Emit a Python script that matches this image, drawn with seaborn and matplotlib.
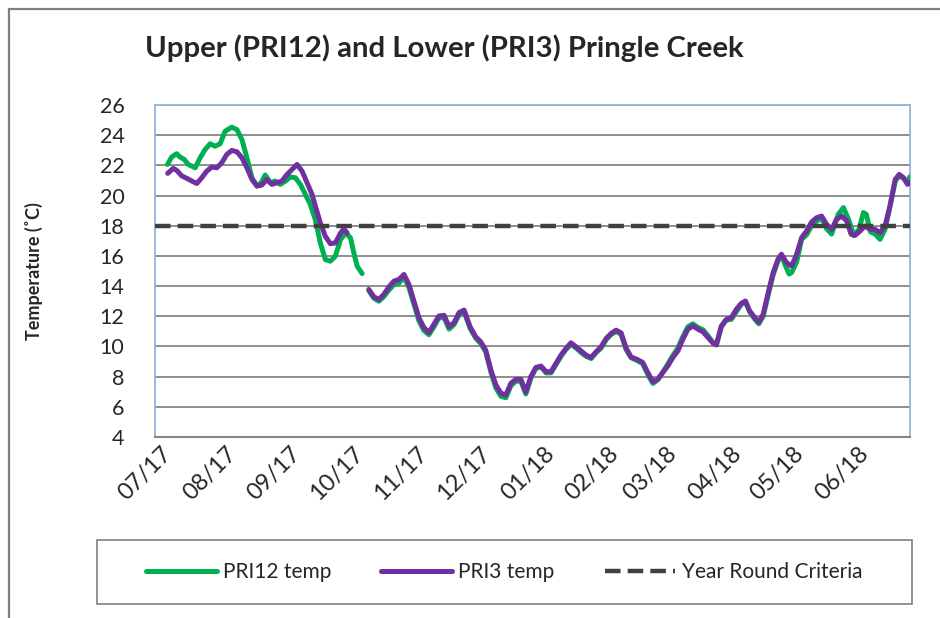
import numpy as np
import pandas as pd
import matplotlib
matplotlib.use('Agg')
import matplotlib.pyplot as plt
import matplotlib.transforms as mtransforms
from matplotlib.patches import Rectangle
import seaborn as sns

# day offsets from 2017-07-01
pri12_days = [6, 8, 10.4, 12, 14, 16, 19.3, 21.7, 24.1, 26.5, 28.9, 31.3, 33.7, 36.9, 39.4,
              41.8, 44.2, 46.6, 49, 51.1, 53, 55.4, 57.8, 60.2, 62.7, 65.1, 67.5, 69.9, 72.3,
              74.7, 77.1, 79.5, 81.9, 84.3, 86.7, 89.2, 91.6, 94, 95.6, 97.2, 99.6,
              102.8, 105.2, 107.6, 110, 112.5, 114.9, 117.3, 119.7, 122.1, 124.5, 126.9,
              129.3, 131.7, 134.1, 136.5, 139, 141.4, 143.8, 146.2, 148.6, 151.5, 154.2,
              156.6, 159, 161.5, 163.9, 166.3, 168.7, 171.1, 173.5, 175.9, 178.3, 180.7,
              183.1, 185.6, 188, 190.4, 192.8, 195.2, 197.6, 200, 202.4, 204.8, 207.2,
              209.7, 212.1, 214.5, 216.9, 219.3, 221.7, 224.1, 226.5, 228.9, 232.1, 234.5,
              236.9, 239.4, 241.8, 244.2, 246.6, 249, 251.4, 253.8, 256.2, 258.6, 261.1,
              263.5, 265.9, 268.3, 269.9, 272.3, 274.7, 277.1, 279.5, 281.9, 283.9, 285.9,
              288.4, 290.3, 292.4, 294.8, 297.2, 299.6, 301.2, 303.6, 304.9, 306.1, 308.5,
              310.9, 313.3, 315.7, 318.1, 320.5, 322.9, 325.3, 328.5, 331, 333.5, 336,
              338.5, 340.6, 342, 344, 346.2, 348.6, 351, 353.4, 355.9, 357.8, 359.9, 361.8, 363]
pri12_temp = [22.06, 22.55, 22.77, 22.55, 22.4, 22.06, 21.84, 22.5, 23.05, 23.43, 23.27, 23.43,
              24.26, 24.53, 24.37, 23.7, 22.5, 21.18, 20.63, 20.85, 21.36, 20.85, 20.96, 20.74,
              20.96, 21.23, 21.18, 20.74, 20.08, 19.4, 18.4, 16.86, 15.76, 15.65, 15.98, 17.08,
              17.52, 17.19, 16.2, 15.32, 14.83,
              13.7, 13.2, 13.0, 13.3, 13.75, 14.1, 14.2, 14.6, 13.9, 12.8, 11.7,
              11.05, 10.78, 11.3, 11.9, 11.9, 11.15, 11.45, 12.1, 12.3, 11.2, 10.55,
              10.2, 9.65, 8.3, 7.25, 6.7, 6.6, 7.4, 7.7, 7.7, 6.85, 7.9,
              8.55, 8.65, 8.25, 8.25, 8.8, 9.35, 9.8, 10.15, 9.9, 9.6, 9.35,
              9.2, 9.6, 9.9, 10.45, 10.8, 11.0, 10.8, 9.8, 9.25, 9.05, 8.85,
              8.15, 7.55, 7.8, 8.3, 8.85, 9.4, 9.9, 10.65, 11.3, 11.5, 11.25,
              11.1, 10.7, 10.25, 10.1, 11.3, 11.75, 11.8, 12.3, 12.8, 12.95, 12.3,
              11.8, 11.5, 12.0, 13.4, 14.75, 15.7, 16.0, 15.2, 14.8, 14.9, 15.6,
              17.1, 17.4, 18.0, 18.3, 18.5, 17.8, 17.45, 18.75, 19.2, 18.4, 17.35,
              17.76, 18.87, 18.75, 17.6, 17.45, 17.1, 17.76, 19.3, 20.96, 21.3, 21.15, 20.9, 21.25]
pri12_seg = [1] * 41 + [2] * (len(pri12_days) - 41)

pri3_days = [6.1, 8.8, 10.4, 12.9, 15.3, 17.7, 20.1, 22.5, 24.9, 27.3, 29.7, 32.1, 34.5, 36.9,
             39.4, 41.8, 44.2, 46.6, 49, 51.4, 53.8, 56.2, 58.6, 61, 63.5, 65.9, 68.3, 70.7,
             73.1, 75.5, 77.1, 79.5, 81.9, 84.3, 86.7, 89.2, 90.8, 92.4,
             102.8, 105.2, 107.6, 110, 112.5, 114.9, 117.3, 119.7, 122.1, 124.5, 126.9,
             129.3, 131.7, 134.1, 136.5, 139, 141.4, 143.8, 146.2, 148.6, 151.5, 154.2,
             156.6, 159, 161.5, 163.9, 166.3, 168.7, 171.1, 173.5, 175.9, 178.3, 180.7,
             183.1, 185.6, 188, 190.4, 192.8, 195.2, 197.6, 200, 202.4, 204.8, 207.2,
             209.7, 212.1, 214.5, 216.9, 219.3, 221.7, 224.1, 226.5, 228.9, 232.1, 234.5,
             236.9, 239.4, 241.8, 244.2, 246.6, 249, 251.4, 253.8, 256.2, 258.6, 261.1,
             263.5, 265.9, 268.3, 269.9, 272.3, 274.7, 277.1, 279.5, 281.9, 283.9, 285.9,
             288.4, 290.3, 292.4, 294.8, 297.2, 299.6, 301.2, 303.6, 306.1, 308.5, 310.9,
             313.3, 315.7, 318.1, 320.5, 322.9, 325.3, 327.7, 330.2, 332.6, 334.7, 336.6,
             339, 341.4, 343.8, 346.2, 348.6, 351, 353.4, 355.9, 357.8, 359.9, 361.8, 363]
pri3_temp = [21.47, 21.8, 21.67, 21.3, 21.14, 20.96, 20.8, 21.18, 21.62, 21.89, 21.84, 22.17,
             22.72, 22.99, 22.9, 22.5, 21.84, 21.07, 20.63, 20.7, 21.07, 20.74, 20.85, 20.96,
             21.4, 21.73, 22.06, 21.62, 20.85, 20.08, 19.3, 18.18, 17.3, 16.81, 16.86, 17.52,
             17.78, 17.52,
             13.78, 13.29, 13.12, 13.45, 13.95, 14.33, 14.44, 14.77, 14.1, 13.0, 11.9,
             11.25, 10.92, 11.47, 12.02, 12.06, 11.31, 11.58, 12.24, 12.41, 11.3, 10.64,
             10.31, 9.76, 8.44, 7.45, 6.9, 6.79, 7.56, 7.82, 7.82, 7.0, 8.0,
             8.61, 8.7, 8.33, 8.33, 8.88, 9.43, 9.87, 10.24, 9.98, 9.71, 9.43,
             9.27, 9.65, 9.98, 10.53, 10.86, 11.08, 10.9, 9.9, 9.3, 9.12, 8.94,
             8.28, 7.66, 7.84, 8.28, 8.72, 9.27, 9.71, 10.48, 11.14, 11.36, 11.14,
             10.96, 10.59, 10.22, 10.11, 11.36, 11.8, 11.91, 12.46, 12.86, 13.01, 12.35,
             11.91, 11.62, 12.13, 13.56, 14.88, 15.8, 16.11, 15.55, 15.33, 16.11, 17.21,
             17.65, 18.25, 18.53, 18.64, 18.09, 17.76, 18.42, 18.64, 18.31, 17.43, 17.36,
             17.65, 17.98, 17.76, 17.76, 17.54, 17.98, 19.31, 21.07, 21.4, 21.18, 20.74, 20.9]
pri3_seg = [1] * 38 + [2] * (len(pri3_days) - 38)

criteria = 18
month_labels = ['07/17', '08/17', '09/17', '10/17', '11/17', '12/17',
                '01/18', '02/18', '03/18', '04/18', '05/18', '06/18']

start = pd.Timestamp('2017-07-01')
pri12 = pd.DataFrame({'date': start + pd.to_timedelta(pri12_days, unit='D'),
                      'temp': pri12_temp, 'seg': pri12_seg})
pri3 = pd.DataFrame({'date': start + pd.to_timedelta(pri3_days, unit='D'),
                     'temp': pri3_temp, 'seg': pri3_seg})

sns.set_style('white')
plt.rcParams['font.family'] = ['Lato', 'DejaVu Sans']

fig = plt.figure(figsize=(9.4, 6.18), dpi=100)
ax = fig.add_axes([155 / 940, 1 - 437 / 618, 755 / 940, 332 / 618])

green = '#00b050'
purple = '#7030a0'

sns.lineplot(data=pri12, x='date', y='temp', units='seg', estimator=None,
             color=green, lw=3.6, ax=ax, zorder=3)
sns.lineplot(data=pri3, x='date', y='temp', units='seg', estimator=None,
             color=purple, lw=3.6, ax=ax, zorder=4)
ax.axhline(criteria, color='#404040', lw=3.2, dashes=(3.5, 1.6), zorder=5)

ax.set_ylim(4, 26)
ax.set_yticks(range(4, 27, 2))
ax.set_xlim(start, pd.Timestamp('2018-06-29'))
months = pd.date_range('2017-07-01', periods=12, freq='MS')
ax.set_xticks(months)
ax.set_xticklabels(month_labels, rotation=45, ha='right', rotation_mode='anchor')
ax.tick_params(axis='x', direction='in', length=5, width=1.2, color='#868686',
               labelsize=17, pad=4)
ax.tick_params(axis='y', length=0, labelsize=15.5, pad=22)
ax.grid(axis='y', color='#868686', lw=1.3)
ax.set_axisbelow(True)

# nudge the rotated month labels to the right like the original
shift = mtransforms.ScaledTranslation(6 / 100, 0, fig.dpi_scale_trans)
for lab in ax.get_xticklabels():
    lab.set_transform(lab.get_transform() + shift)

for side in ['top', 'right', 'left']:
    ax.spines[side].set_color('#95b3d7')
    ax.spines[side].set_linewidth(1.3)
ax.spines['bottom'].set_color('#868686')
ax.spines['bottom'].set_linewidth(1.5)

ax.set_xlabel('')
ax.set_ylabel('Temperature (˚C)', fontsize=13, fontweight='bold')
ax.yaxis.set_label_coords(-0.148, 0.5)

fig.text(145 / 940, 1 - 48 / 618, 'Upper (PRI12) and Lower (PRI3) Pringle Creek',
         fontsize=21.2, fontweight='bold', va='center', ha='left')

# chart border and legend box
fig.patches.append(Rectangle((9 / 940, -0.05), 1.1, 1 - 9 / 618 + 0.05,
                             transform=fig.transFigure, fill=False,
                             edgecolor='#808080', lw=1.6))
fig.patches.append(Rectangle((97 / 940, 1 - 604 / 618), 815 / 940, 64 / 618,
                             transform=fig.transFigure, fill=False,
                             edgecolor='#808080', lw=1.2))

handles = [plt.Line2D([], [], color=green, lw=3.6),
           plt.Line2D([], [], color=purple, lw=3.6),
           plt.Line2D([], [], color='#404040', lw=3.2, dashes=(3.5, 1.6))]
fig.legend(handles, ['PRI12 temp', 'PRI3 temp', 'Year Round Criteria'],
           loc='center', bbox_to_anchor=(504 / 940, 1 - 572 / 618), ncol=3,
           frameon=False, fontsize=15, handlelength=3.4, handletextpad=0.3,
           columnspacing=2.4)

fig.savefig('out.png', dpi=100)
